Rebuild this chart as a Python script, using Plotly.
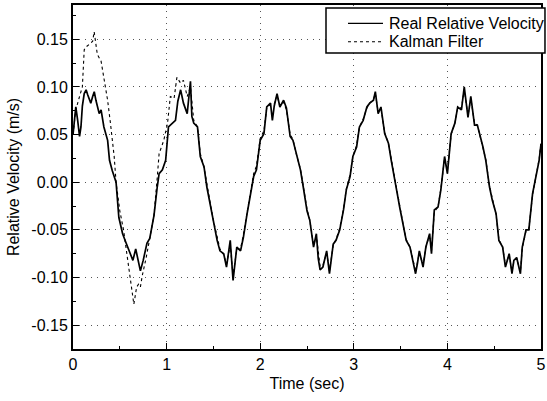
import plotly.graph_objects as go

# Real relative velocity
real_t = [0.00, 0.03, 0.05, 0.07, 0.085, 0.10, 0.12, 0.14, 0.156, 0.19, 0.21, 0.227, 0.245, 0.28, 0.30,
          0.33, 0.37, 0.39, 0.42, 0.46, 0.49, 0.53, 0.56, 0.60, 0.64, 0.67, 0.72, 0.75, 0.79, 0.82,
          0.865, 0.90, 0.92, 0.955, 0.99, 1.02, 1.06, 1.095, 1.12, 1.15, 1.18, 1.22, 1.255, 1.27, 1.29,
          1.33, 1.36, 1.40, 1.43, 1.47, 1.50, 1.54, 1.57, 1.61, 1.64, 1.68, 1.71, 1.75, 1.79, 1.82,
          1.86, 1.89, 1.93, 1.96, 2.00, 2.04, 2.07, 2.11, 2.13, 2.15, 2.18, 2.21, 2.25, 2.28, 2.32,
          2.35, 2.39, 2.43, 2.46, 2.50, 2.53, 2.57, 2.60, 2.62, 2.64, 2.67, 2.71, 2.74, 2.78, 2.81,
          2.85, 2.89, 2.92, 2.96, 2.99, 3.03, 3.06, 3.10, 3.14, 3.17, 3.21, 3.23, 3.26, 3.29, 3.33,
          3.37, 3.40, 3.44, 3.47, 3.49, 3.53, 3.56, 3.60, 3.63, 3.66, 3.68, 3.70, 3.74, 3.77, 3.81,
          3.83, 3.86, 3.90, 3.93, 3.97, 4.00, 4.04, 4.08, 4.11, 4.15, 4.18, 4.22, 4.25, 4.29, 4.32,
          4.38, 4.41, 4.45, 4.48, 4.52, 4.55, 4.59, 4.62, 4.66, 4.69, 4.71, 4.74, 4.78, 4.80, 4.84,
          4.87, 4.91, 4.94, 4.98, 5.00]
real_v = [0.050, 0.079, 0.065, 0.048, 0.058, 0.080, 0.093, 0.097, 0.092, 0.083, 0.090, 0.095, 0.086, 0.072, 0.076,
          0.058, 0.044, 0.023, 0.012, 0.000, -0.037, -0.054, -0.062, -0.073, -0.082, -0.070, -0.093, -0.082, -0.064, -0.059,
          -0.035, -0.005, 0.009, 0.013, 0.023, 0.058, 0.062, 0.065, 0.085, 0.097, 0.083, 0.072, 0.106, 0.069, 0.062,
          0.058, 0.027, 0.016, -0.005, -0.026, -0.040, -0.061, -0.072, -0.075, -0.089, -0.061, -0.103, -0.068, -0.072, -0.058,
          -0.033, -0.015, 0.006, 0.013, 0.044, 0.051, 0.079, 0.083, 0.065, 0.080, 0.093, 0.079, 0.086, 0.078, 0.048,
          0.044, 0.027, 0.013, -0.005, -0.030, -0.040, -0.068, -0.054, -0.080, -0.092, -0.089, -0.072, -0.096, -0.065, -0.061,
          -0.050, -0.029, -0.008, 0.006, 0.027, 0.037, 0.058, 0.065, 0.079, 0.083, 0.086, 0.095, 0.072, 0.079, 0.051,
          0.041, 0.023, -0.001, -0.015, -0.026, -0.047, -0.061, -0.068, -0.082, -0.096, -0.085, -0.072, -0.089, -0.068, -0.054,
          -0.075, -0.029, -0.026, -0.008, 0.027, 0.009, 0.051, 0.062, 0.079, 0.076, 0.100, 0.068, 0.090, 0.060, 0.060,
          0.037, 0.023, -0.005, -0.019, -0.033, -0.061, -0.068, -0.089, -0.075, -0.096, -0.082, -0.079, -0.096, -0.068, -0.050,
          -0.050, -0.012, 0.002, 0.023, 0.040]

# Kalman filter estimate
kal_t = [0.00, 0.03, 0.07, 0.10, 0.12, 0.14, 0.19, 0.21, 0.226, 0.26, 0.30, 0.33, 0.37, 0.40, 0.44,
         0.46, 0.50, 0.54, 0.58, 0.61, 0.63, 0.65, 0.68, 0.70, 0.72, 0.74, 0.78, 0.82, 0.865, 0.90,
         0.92, 0.97, 1.01, 1.04, 1.08, 1.11, 1.15, 1.18, 1.22, 1.255, 1.29, 1.33, 1.36, 1.40, 1.43,
         1.47, 1.50, 1.54, 1.57, 1.61, 1.64, 1.68, 1.71, 1.75, 1.79, 1.82, 1.86, 1.89, 1.93, 1.96,
         2.00, 2.04, 2.07, 2.11, 2.15, 2.18, 2.21, 2.25, 2.28, 2.32, 2.35, 2.39, 2.43, 2.46, 2.50,
         2.53, 2.57, 2.60, 2.64, 2.67, 2.71, 2.74, 2.78, 2.81, 2.85, 2.89, 2.92, 2.96, 2.99, 3.03,
         3.06, 3.10, 3.14, 3.17, 3.21, 3.23, 3.26, 3.29, 3.33, 3.37, 3.40, 3.44, 3.49, 3.53, 3.56,
         3.60, 3.63, 3.66, 3.70, 3.74, 3.77, 3.81, 3.83, 3.86, 3.90, 3.93, 3.97, 4.00, 4.04, 4.08,
         4.11, 4.15, 4.18, 4.22, 4.25, 4.29, 4.32, 4.38, 4.41, 4.45, 4.48, 4.52, 4.55, 4.59, 4.62,
         4.66, 4.69, 4.71, 4.74, 4.78, 4.80, 4.84, 4.87, 4.91, 4.94, 4.98, 5.00]
kal_v = [0.050, 0.076, 0.090, 0.100, 0.139, 0.142, 0.146, 0.148, 0.158, 0.134, 0.127, 0.110, 0.086, 0.062, 0.027,
         0.000, -0.030, -0.050, -0.080, -0.100, -0.115, -0.128, -0.110, -0.107, -0.110, -0.098, -0.080, -0.060, -0.035, 0.005,
         0.030, 0.044, 0.062, 0.090, 0.088, 0.110, 0.104, 0.107, 0.090, 0.100, 0.065, 0.058, 0.030, 0.016, -0.003,
         -0.024, -0.040, -0.059, -0.070, -0.076, -0.086, -0.066, -0.098, -0.070, -0.070, -0.055, -0.030, -0.012, 0.009, 0.017,
         0.046, 0.054, 0.078, 0.082, 0.082, 0.091, 0.080, 0.084, 0.076, 0.050, 0.045, 0.028, 0.014, -0.004, -0.028,
         -0.040, -0.066, -0.056, -0.088, -0.087, -0.074, -0.093, -0.066, -0.060, -0.048, -0.028, -0.007, 0.008, 0.027, 0.039,
         0.058, 0.066, 0.078, 0.083, 0.087, 0.093, 0.074, 0.078, 0.052, 0.041, 0.024, 0.001, -0.025, -0.046, -0.060,
         -0.068, -0.080, -0.094, -0.074, -0.087, -0.068, -0.055, -0.072, -0.031, -0.026, -0.007, 0.025, 0.012, 0.050, 0.062,
         0.078, 0.078, 0.097, 0.070, 0.088, 0.062, 0.060, 0.038, 0.024, -0.004, -0.018, -0.034, -0.060, -0.068, -0.087,
         -0.076, -0.094, -0.083, -0.080, -0.094, -0.069, -0.051, -0.049, -0.013, 0.003, 0.024, 0.042]

series_names = ["Real Relative Velocity", "Kalman Filter"]
x_ticks = [0, 1, 2, 3, 4, 5]
y_ticks = [-0.15, -0.10, -0.05, 0.00, 0.05, 0.10, 0.15]

FONT = "Arial, Liberation Sans, Helvetica, sans-serif"
styles = [dict(color="black", width=1.7), dict(color="black", width=1.1, dash="dot")]

fig = go.Figure()
fig.add_trace(go.Scatter(x=real_t, y=real_v, mode="lines", name=series_names[0],
                         line=styles[0], showlegend=False))
fig.add_trace(go.Scatter(x=kal_t, y=kal_v, mode="lines", name=series_names[1],
                         line=styles[1], showlegend=False))

axis_common = dict(
    showline=True, linecolor="black", linewidth=2, mirror=True,
    ticks="inside", ticklen=6, tickwidth=1, tickcolor="black",
    showgrid=True, gridcolor="#555555", gridwidth=1, griddash="1px,5px",
    zeroline=False, automargin=False,
    tickfont=dict(family=FONT, size=16, color="black"),
)

fig.update_xaxes(range=[0, 5], tickvals=x_ticks, ticktext=[str(v) for v in x_ticks],
                 title=dict(text="Time (sec)", font=dict(family=FONT, size=16, color="black"), standoff=6),
                 minor=dict(dtick=0.5, ticks="inside", ticklen=3, tickcolor="black", showgrid=False),
                 **axis_common)
fig.update_yaxes(range=[-0.175, 0.186], tickvals=y_ticks, ticktext=[f"{v:.2f}" for v in y_ticks],
                 title=dict(text="Relative Velocity (m/s)", font=dict(family=FONT, size=16, color="black"), standoff=8),
                 minor=dict(dtick=0.025, ticks="inside", ticklen=3, tickcolor="black", showgrid=False),
                 **axis_common)

# Legend box drawn in paper coordinates (top right, as in the reference)
box = dict(x0=0.5406, x1=1.0085, y0=0.8605, y1=0.9913)
row_y = [0.9468, 0.8933]
sample_x = (0.5876, 0.6624)
text_x = 0.6731

shapes = [dict(type="rect", xref="paper", yref="paper", **box,
               line=dict(color="black", width=1.5), fillcolor="white", layer="above")]
annotations = []
for name, st, ry in zip(series_names, styles, row_y):
    shapes.append(dict(type="line", xref="paper", yref="paper",
                       x0=sample_x[0], x1=sample_x[1], y0=ry, y1=ry,
                       line=dict(color=st["color"], width=min(st["width"], 1.3), dash=st.get("dash", "solid")),
                       layer="above"))
    annotations.append(dict(xref="paper", yref="paper", x=text_x, y=ry, xanchor="left", yanchor="middle",
                            text=name, showarrow=False, borderpad=0,
                            font=dict(family=FONT, size=16, color="black")))

fig.update_layout(
    width=547, height=401,
    margin=dict(l=73, r=6, t=5, b=52, autoexpand=False),
    paper_bgcolor="white", plot_bgcolor="white",
    showlegend=False,
    shapes=shapes,
    annotations=annotations,
)

fig.write_html("out.html", config={"displayModeBar": False},
               post_script="document.body.style.margin='0';document.body.style.padding='0';")
